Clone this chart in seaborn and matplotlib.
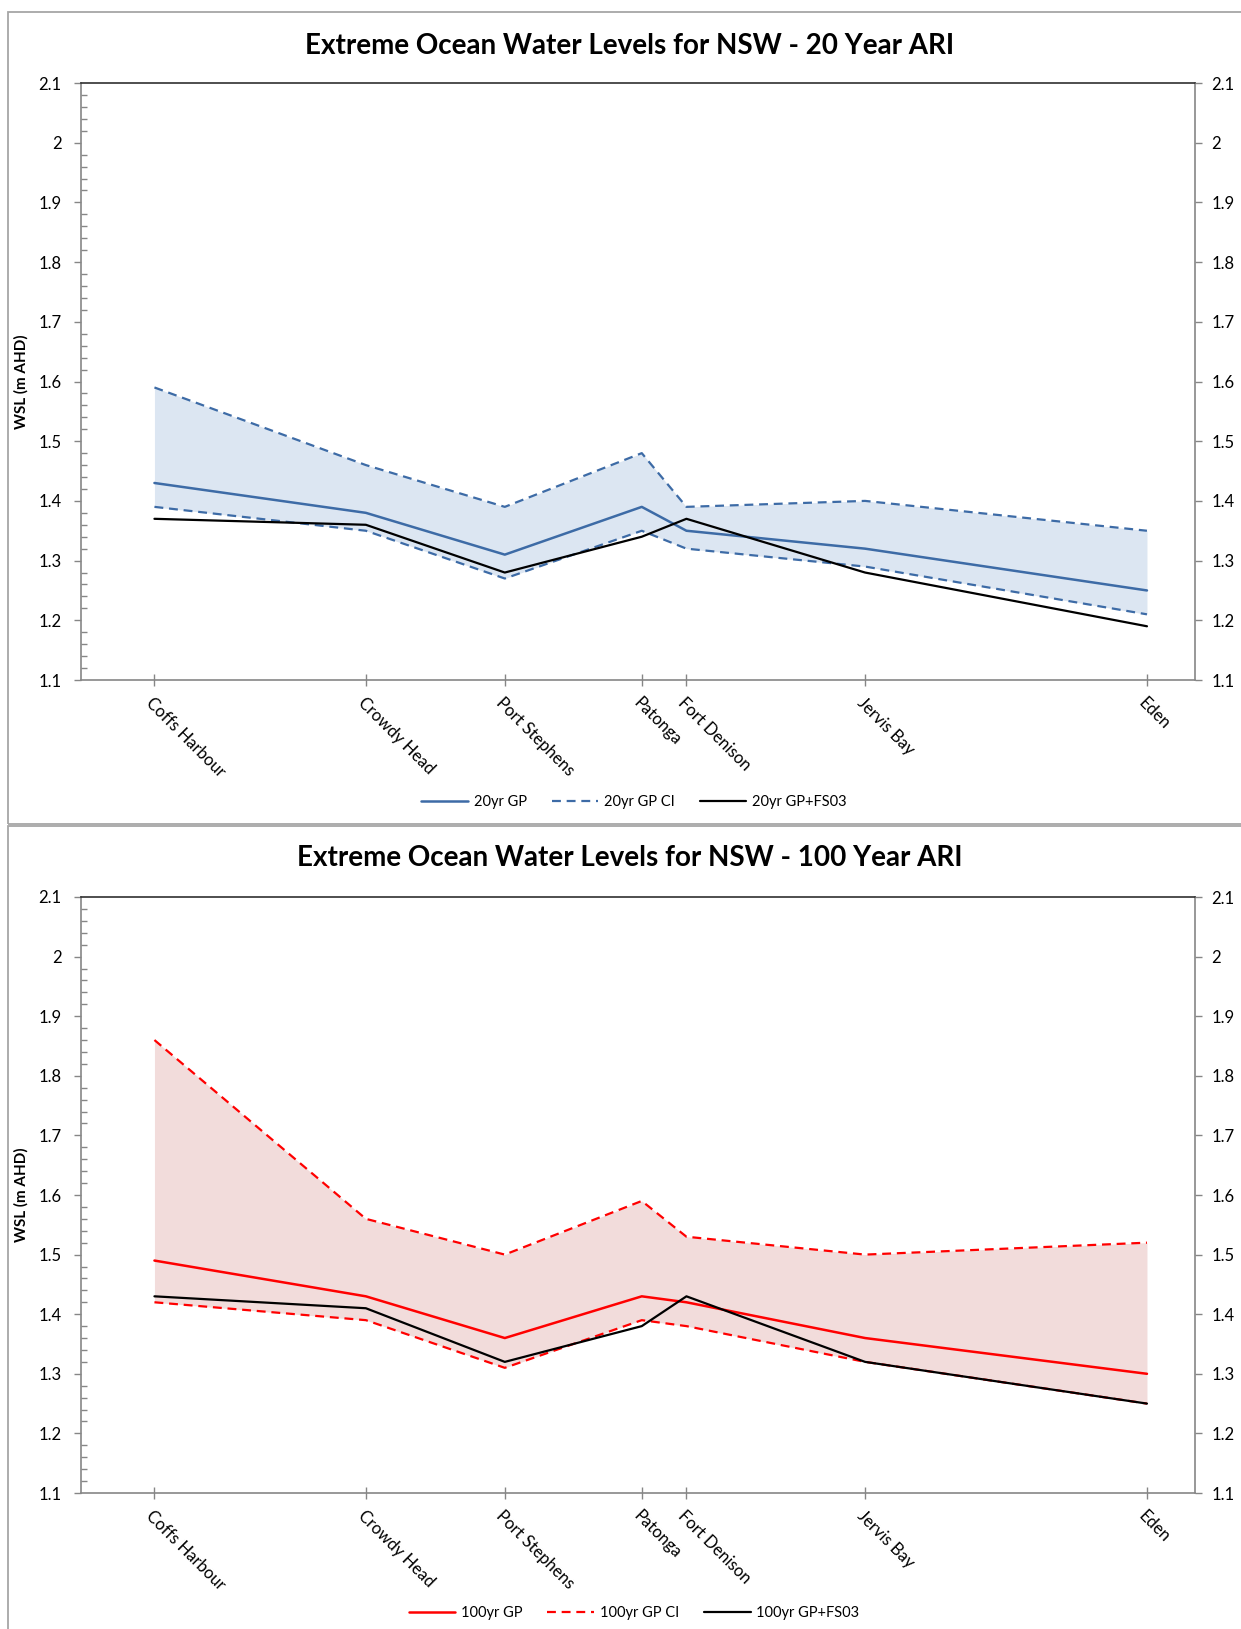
import numpy as np
import pandas as pd
import seaborn as sns
import matplotlib
matplotlib.use("Agg")
import matplotlib.pyplot as plt
from matplotlib.lines import Line2D
from matplotlib.patches import Rectangle
from matplotlib.ticker import MultipleLocator

# ---------------- data ----------------
sites = ["Coffs Harbour", "Crowdy Head", "Port Stephens", "Patonga",
         "Fort Denison", "Jervis Bay", "Eden"]
# relative position along the coast (as spaced on the chart's x-axis)
site_position = [0, 213, 353, 491, 536, 716, 1000]

gp20 = [1.43, 1.38, 1.31, 1.39, 1.35, 1.32, 1.25]
gp20_ci_upper = [1.59, 1.46, 1.39, 1.48, 1.39, 1.40, 1.35]
gp20_ci_lower = [1.39, 1.35, 1.27, 1.35, 1.32, 1.29, 1.21]
gp20_fs03 = [1.37, 1.36, 1.28, 1.34, 1.37, 1.28, 1.19]

gp100 = [1.49, 1.43, 1.36, 1.43, 1.42, 1.36, 1.30]
gp100_ci_upper = [1.86, 1.56, 1.50, 1.59, 1.53, 1.50, 1.52]
gp100_ci_lower = [1.42, 1.39, 1.31, 1.39, 1.38, 1.32, 1.25]
gp100_fs03 = [1.43, 1.41, 1.32, 1.38, 1.43, 1.32, 1.25]

y_ticks = [1.1, 1.2, 1.3, 1.4, 1.5, 1.6, 1.7, 1.8, 1.9, 2.0, 2.1]
y_tick_labels = ["1.1", "1.2", "1.3", "1.4", "1.5", "1.6", "1.7", "1.8", "1.9", "2", "2.1"]

titles = ["Extreme Ocean Water Levels for NSW - 20 Year ARI",
          "Extreme Ocean Water Levels for NSW - 100 Year ARI"]
legend_labels = [["20yr GP", "20yr GP CI", "20yr GP+FS03"],
                 ["100yr GP", "100yr GP CI", "100yr GP+FS03"]]
y_label = "WSL (m AHD)"

# ---------------- style ----------------
sns.set_theme(style="white")
plt.rcParams["font.family"] = ["Lato", "DejaVu Sans"]
plt.rcParams["text.color"] = "black"

W, H = 1241, 1629
fig = plt.figure(figsize=(W / 100, H / 100), dpi=100)

blue = "#3d6ba6"
blue_fill = "#dce6f2"
red = "#ff0000"
red_fill = "#f2dcdb"
axis_grey = "#868686"

panels = [
    dict(gp=gp20, up=gp20_ci_upper, lo=gp20_ci_lower, fs=gp20_fs03,
         col=blue, fill=blue_fill, top=83, bot=680, title_y=46, leg_y=802,
         frame=(12, 824)),
    dict(gp=gp100, up=gp100_ci_upper, lo=gp100_ci_lower, fs=gp100_fs03,
         col=red, fill=red_fill, top=897, bot=1493, title_y=858, leg_y=1613,
         frame=(826, 1700)),
]

ax_left, ax_right = 81, 1195
dash = (4, 2.6)

for i, p in enumerate(panels):
    # chart-area frame
    fy0, fy1 = p["frame"]
    fig.add_artist(Rectangle((8 / W, 1 - fy1 / H), 1.2, (fy1 - fy0) / H,
                             transform=fig.transFigure, fill=False,
                             edgecolor="#a6a6a6", lw=1.3, zorder=0))

    ax = fig.add_axes([ax_left / W, 1 - p["bot"] / H,
                       (ax_right - ax_left) / W, (p["bot"] - p["top"]) / H])
    df = pd.DataFrame({"pos": site_position, "gp": p["gp"], "up": p["up"],
                       "lo": p["lo"], "fs": p["fs"]})

    ax.fill_between(df["pos"], df["lo"], df["up"], color=p["fill"], lw=0, zorder=1)
    sns.lineplot(data=df, x="pos", y="up", ax=ax, color=p["col"], lw=1.6,
                 legend=False, zorder=3).lines[-1].set_dashes(dash)
    sns.lineplot(data=df, x="pos", y="lo", ax=ax, color=p["col"], lw=1.6,
                 legend=False, zorder=3).lines[-1].set_dashes(dash)
    sns.lineplot(data=df, x="pos", y="gp", ax=ax, color=p["col"], lw=1.8,
                 legend=False, zorder=4)
    sns.lineplot(data=df, x="pos", y="fs", ax=ax, color="black", lw=1.6,
                 legend=False, zorder=4)

    ax.set_xlim(-74, 1048.4)
    ax.set_ylim(1.1, 2.1)
    ax.set_xlabel("")
    ax.set_ylabel(y_label, fontsize=11, fontweight="bold", color="black")
    ax.yaxis.set_label_coords(-(ax_left - 29) / (ax_right - ax_left), 0.5)

    ax.set_xticks(site_position)
    ax.set_xticklabels(sites, rotation=-45, ha="left", va="top",
                       rotation_mode="anchor", fontsize=12, color="black")
    ax.set_yticks(y_ticks)
    ax.set_yticklabels(y_tick_labels, color="black")
    ax.yaxis.set_minor_locator(MultipleLocator(0.02))
    ax.tick_params(axis="y", which="major", direction="out", length=5, width=1,
                   color=axis_grey, left=True, right=True, labelleft=True,
                   labelright=False, labelsize=12, pad=9)
    ax.tick_params(axis="y", which="minor", direction="in", length=4, width=1,
                   color=axis_grey, left=True, right=True)
    ax.tick_params(axis="x", which="major", direction="inout", length=9, width=1,
                   color=axis_grey, bottom=True, pad=6)
    for s in ["left", "right", "bottom"]:
        ax.spines[s].set_color(axis_grey)
        ax.spines[s].set_linewidth(1.2)
    ax.spines["top"].set_color("#303030")
    ax.spines["top"].set_linewidth(1.2)
    ax.grid(False)
    ax.set_facecolor("white")

    # right-hand value axis (same scale)
    axr = ax.twinx()
    axr.set_ylim(ax.get_ylim())
    axr.set_yticks(y_ticks)
    axr.set_yticklabels(y_tick_labels, color="black")
    axr.tick_params(axis="y", which="major", direction="out", length=5, width=1,
                    color=axis_grey, labelsize=12, pad=7)
    axr.tick_params(axis="y", which="minor", right=False)
    axr.grid(False)
    for s in axr.spines.values():
        s.set_visible(False)

    fig.text(630 / W, 1 - p["title_y"] / H, titles[i], ha="center", va="center",
             fontsize=20, fontweight="bold", color="black")

    handles = [Line2D([], [], color=p["col"], lw=1.8),
               Line2D([], [], color=p["col"], lw=1.6, dashes=dash),
               Line2D([], [], color="black", lw=1.6)]
    fig.legend(handles, legend_labels[i], loc="center",
               bbox_to_anchor=(634 / W, 1 - p["leg_y"] / H), ncol=3,
               frameon=False, fontsize=10.5, handlelength=3.2,
               handletextpad=0.4, columnspacing=1.7)

fig.savefig("out.png", dpi=100)
